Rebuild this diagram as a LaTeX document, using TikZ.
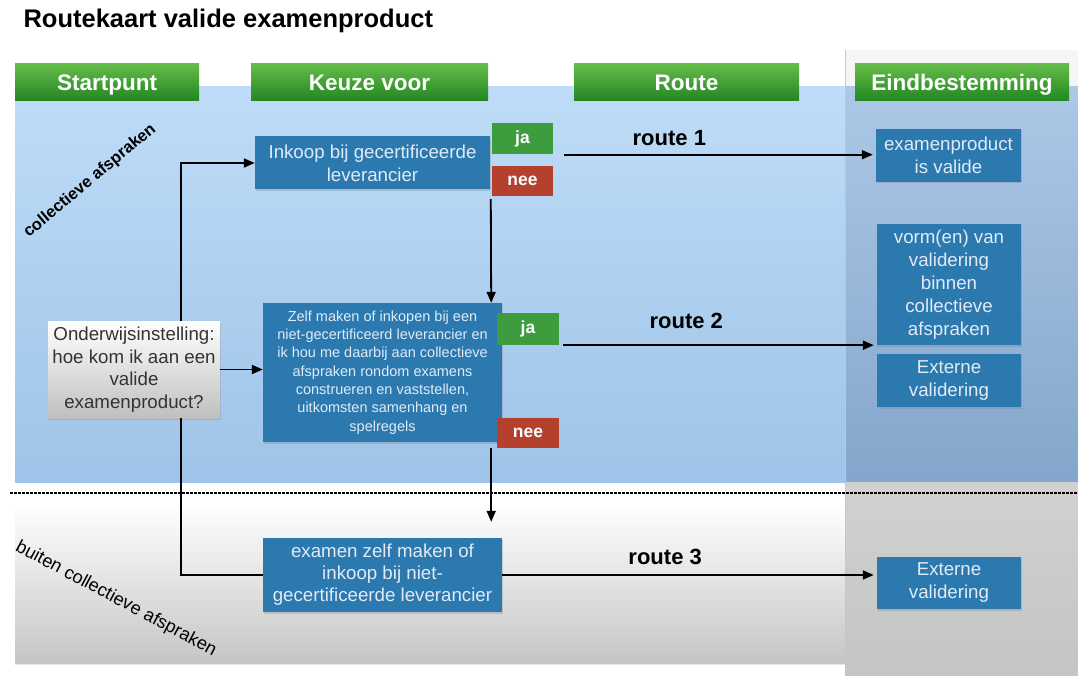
\documentclass[tikz,border=0pt]{standalone}
\usepackage{fontspec}
\setmainfont{Liberation Sans}
\usepackage{xcolor}
\definecolor{vakblauw}{RGB}{44,121,176}
\definecolor{vaktekst}{RGB}{224,235,246}
\definecolor{jagroen}{RGB}{60,156,62}
\definecolor{neerood}{RGB}{182,64,46}
\definecolor{kopboven}{RGB}{100,188,72}
\definecolor{kopbodem}{RGB}{34,134,34}
\definecolor{luchtboven}{RGB}{190,220,247}
\definecolor{luchtonder}{RGB}{158,196,233}
\definecolor{kolomboven}{RGB}{172,200,230}
\definecolor{kolomonder}{RGB}{132,166,204}
\usetikzlibrary{positioning,arrows.meta,calc,shadows}

\begin{document}
\begin{tikzpicture}[x=1pt,y=-1pt,
  kop/.style={top color=kopboven,bottom color=kopbodem,text=white,font=\bfseries\fontsize{22.5}{26}\selectfont,minimum height=37pt,inner sep=0pt,text height=17pt,text depth=1pt},
  vak/.style={fill=vakblauw,text=vaktekst,align=center,inner sep=0pt,font=\fontsize{18.7}{23}\selectfont,drop shadow={opacity=.3,shadow xshift=1pt,shadow yshift=-1.5pt}},
  knop/.style={text=white,font=\bfseries\fontsize{17.5}{20}\selectfont,minimum width=61pt,inner sep=0pt},
  pijl/.style={-{Triangle[length=11pt,width=9pt]},line width=1.8pt},
  lijn/.style={line width=1.8pt},
  routetekst/.style={font=\bfseries\fontsize{22}{26}\selectfont,inner sep=0pt}]
\useasboundingbox (0,0) rectangle (1078,676);
\fill[white] (0,0) rectangle (1078,676);

% achtergrond
\shade[top color=luchtboven,bottom color=luchtonder] (15,87) rectangle (845,482);
\path[top color=white,bottom color=gray!45,drop shadow={opacity=.2,shadow xshift=0pt,shadow yshift=-2pt}] (15,503) rectangle (845,663);
\fill[gray!8] (845,50) rectangle (1078,87);
\shade[top color=kolomboven,bottom color=kolomonder] (845,87) rectangle (1078,482);
\shade[top color=gray!36,bottom color=gray!46] (845,482) rectangle (1078,676);
\draw[gray!45,line width=.8pt] (845,50) -- (845,676);
\draw[line width=2.5pt,dash pattern=on 2.5pt off 1.5pt] (10,493) -- (1078,493);

\node[anchor=west,font=\bfseries\fontsize{25.5}{30}\selectfont] (titel) at (20,21) {Routekaart valide examenproduct};

\node[kop,minimum width=184pt] (start) at (107,82.5) {Startpunt};
\node[kop,minimum width=237pt] (keuze) at (369.5,82.5) {Keuze voor};
\node[kop,minimum width=225pt] (route) at (686.5,82.5) {Route};
\node[kop,minimum width=214pt] (eind) at (962,82.5) {Eindbestemming};

\node[rotate=40,font=\bfseries\fontsize{16.5}{19}\selectfont] (binnen) at (90,181) {collectieve afspraken};
\node[rotate=-28,font=\fontsize{18.2}{20}\selectfont] (buiten) at (116,599) {buiten collectieve afspraken};

% keuzes
\node[vak,minimum width=235pt,minimum height=53pt] (inkoop) at (372.5,163) {Inkoop bij gecertificeerde\\leverancier};
\node[vak,minimum width=239pt,minimum height=139pt,font=\fontsize{14.5}{18.3}\selectfont] (zelf) at (382.5,372.5) {Zelf maken of inkopen bij een\\niet-gecertificeerd leverancier en\\ik hou me daarbij aan collectieve\\afspraken rondom examens\\construeren en vaststellen,\\uitkomsten samenhang en\\spelregels};
\node[vak,minimum width=239pt,minimum height=74pt,font=\fontsize{18.7}{22}\selectfont] (examen) at (382.5,575) {examen zelf maken of\\inkoop bij niet-\\gecertificeerde leverancier};
\node[top color=white,bottom color=gray!50,text=black!80,align=center,inner sep=0pt,minimum width=172pt,minimum height=97pt,font=\fontsize{18.7}{22.5}\selectfont,drop shadow={opacity=.3,shadow xshift=1pt,shadow yshift=-1.5pt}] (vraag) at (134,369.5) {Onderwijsinstelling:\\hoe kom ik aan een\\valide\\examenproduct?};

\node[knop,fill=jagroen,minimum height=31pt] (ja1) at (522.5,139) {ja};
\node[knop,fill=neerood,minimum height=30pt] (nee1) at (522.5,181) {nee};
\node[knop,fill=jagroen,minimum width=62pt,minimum height=32pt] (ja2) at (528,329) {ja};
\node[knop,fill=neerood,minimum width=62pt,minimum height=30pt] (nee2) at (528,433) {nee};

% eindbestemming
\node[vak,minimum width=145pt,minimum height=53pt] (valide) at (948.5,155.5) {examenproduct\\is valide};
\node[vak,minimum width=144pt,minimum height=121pt] (vorm) at (949,284.5) {vorm(en) van\\validering\\binnen\\collectieve\\afspraken};
\node[vak,minimum width=144pt,minimum height=53pt] (extern1) at (949,380.5) {Externe\\validering};
\node[vak,minimum width=144pt,minimum height=52pt] (extern2) at (949,583) {Externe\\validering};

% verbindingen
\coordinate (hoek) at (181,163);
\draw[lijn] (examen.west) -| (vraag.south -| hoek);
\draw[pijl] (vraag.north -| hoek) |- (inkoop.west);
\draw[pijl] (vraag.east) -- (vraag.east -| zelf.west);
\draw[pijl] ($(nee1.south west)+(-1,3)$) -- ($(zelf.north east)+(-11,0)$);
\draw[pijl,shorten >=16pt] ($(zelf.south east)+(-11,6)$) -- ($(examen.north east)+(-11,0)$);

\draw[pijl,shorten <=11pt,shorten >=3pt] (ja1.south east) -- (ja1.south east -| valide.west) node[routetekst,pos=.36,above=8pt] {route 1};
\draw[pijl,shorten <=4pt,shorten >=3pt] (ja2.south east) -- (ja2.south east -| vorm.west) node[routetekst,pos=.40,above=16pt] {route 2};
\draw[pijl,shorten >=3pt] (examen.east) -- (examen.east -| extern2.west) node[routetekst,pos=.435,above=9pt] {route 3};
\end{tikzpicture}
\end{document}
